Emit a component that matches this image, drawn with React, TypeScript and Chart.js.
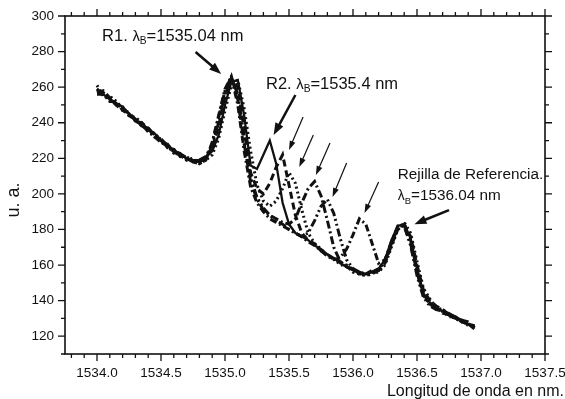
import React, { useEffect, useRef } from 'react';
import { Chart, registerables } from 'chart.js';

Chart.register(...registerables);

// ---------- data ----------
const wavelengths = [
  1534.0, 1534.05, 1534.1, 1534.15, 1534.2, 1534.25, 1534.3, 1534.35, 1534.4, 1534.45,
  1534.5, 1534.55, 1534.6, 1534.65, 1534.7, 1534.75, 1534.8, 1534.85, 1534.9, 1534.95,
  1535.0, 1535.05, 1535.1, 1535.15, 1535.2, 1535.25, 1535.3, 1535.35, 1535.4, 1535.45,
  1535.5, 1535.55, 1535.6, 1535.65, 1535.7, 1535.75, 1535.8, 1535.85, 1535.9, 1535.95,
  1536.0, 1536.05, 1536.1, 1536.15, 1536.2, 1536.25, 1536.3, 1536.35, 1536.4, 1536.45,
  1536.5, 1536.55, 1536.6, 1536.65, 1536.7, 1536.75, 1536.8, 1536.85, 1536.9, 1536.95,
];

const seriesA = [
  259, 256, 253, 251, 249, 245, 242, 238, 236, 234, 230, 228, 224, 223, 220, 219, 219, 221,
  224, 233, 250, 263, 264, 244, 216, 214, 222, 230, 217, 195,
  183, 178, 176, 174, 171, 169, 166, 164, 161, 159, 157, 156,
  155, 156, 158, 163, 174, 182, 183, 175, 158, 144, 139, 136,
  134, 133, 131, 129, 127, 126,
];
const seriesB = [
  257, 258, 254, 250, 247, 246, 241, 240, 237, 232, 231, 226, 225, 221, 221, 218, 218, 220,
  226, 238, 255, 265, 260, 236, 212, 203, 200, 206, 215, 222,
  205, 188, 178, 174, 172, 168, 166, 163, 162, 159, 158, 155,
  155, 157, 157, 161, 171, 180, 183, 176, 160, 146, 140, 137,
  135, 132, 130, 129, 128, 125,
];
const seriesC = [
  261, 255, 255, 252, 248, 244, 243, 240, 235, 233, 229, 227, 223, 222, 219, 220, 217, 219,
  222, 231, 247, 261, 264, 248, 224, 205, 196, 193, 196, 203,
  212, 206, 191, 178, 172, 169, 165, 164, 160, 160, 156, 155,
  154, 156, 156, 160, 170, 180, 184, 178, 162, 147, 141, 136,
  135, 132, 131, 128, 127, 125,
];
const seriesD = [
  258, 257, 253, 251, 248, 245, 241, 239, 236, 234, 230, 226, 224, 221, 220, 218, 219, 221,
  228, 243, 258, 266, 253, 228, 207, 197, 191, 188, 186, 184,
  183, 186, 195, 203, 207, 199, 185, 170, 162, 159, 157, 156,
  154, 155, 157, 163, 173, 182, 182, 172, 156, 143, 138, 136,
  133, 132, 130, 129, 126, 126,
];
const seriesE = [
  259, 255, 254, 250, 249, 244, 242, 238, 237, 233, 231, 227, 225, 222, 219, 219, 218, 220,
  227, 240, 256, 265, 256, 232, 209, 198, 192, 188, 185, 183,
  180, 178, 176, 178, 185, 193, 197, 189, 175, 163, 158, 156,
  155, 156, 158, 162, 172, 181, 182, 171, 154, 142, 137, 135,
  134, 131, 131, 128, 127, 124,
];
const seriesF = [
  256, 256, 252, 252, 247, 245, 242, 239, 235, 232, 229, 228, 223, 222, 221, 218, 217, 219,
  229, 244, 259, 266, 250, 224, 204, 195, 190, 186, 184, 182,
  180, 178, 176, 173, 171, 168, 165, 163, 164, 169, 177, 186,
  183, 172, 161, 163, 172, 181, 183, 174, 157, 144, 138, 136,
  134, 132, 130, 128, 127, 125,
];

const xMajorTicks = [1534.0, 1534.5, 1535.0, 1535.5, 1536.0, 1536.5, 1537.0, 1537.5];
const xTickLabels = ['1534.0', '1534.5', '1535.0', '1535.5', '1536.0', '1536.5', '1537.0', '1537.5'];
const yMajorTicks = [120, 140, 160, 180, 200, 220, 240, 260, 280, 300];
const yTickLabels = ['120', '140', '160', '180', '200', '220', '240', '260', '280', '300'];
const X_MIN = 1533.75;
const X_MAX = 1537.5;
const Y_MIN = 110;
const Y_MAX = 300;
const xTitle = 'Longitud de onda en nm.';
const yTitle = 'u. a.';

// annotations (data coordinates)
const thickArrows = [
  { x1: 1534.77, y1: 279.8, x2: 1534.97, y2: 267.4 },
  { x1: 1535.55, y1: 255.6, x2: 1535.38, y2: 233.1 },
  { x1: 1536.75, y1: 190.9, x2: 1536.48, y2: 183.0 },
];
const thinArrows = [
  { x1: 1535.61, y1: 243.2, x2: 1535.5, y2: 224.7 },
  { x1: 1535.69, y1: 233.1, x2: 1535.58, y2: 215.1 },
  { x1: 1535.82, y1: 228.6, x2: 1535.71, y2: 210.6 },
  { x1: 1535.95, y1: 217.4, x2: 1535.84, y2: 198.3 },
  { x1: 1536.2, y1: 206.7, x2: 1536.09, y2: 189.3 },
];
const annotationTexts = [
  { x: 1534.04, y: 289.3, size: 16.5, parts: [['R1. ', 'n'], ['λ', 'l'], ['B', 's'], ['=1535.04 nm', 'n']] },
  { x: 1535.32, y: 262.3, size: 16.5, parts: [['R2. ', 'n'], ['λ', 'l'], ['B', 's'], ['=1535.4 nm', 'n']] },
  { x: 1536.35, y: 211.7, size: 15.3, parts: [['Rejilla de Referencia.', 'n']] },
  { x: 1536.35, y: 199.4, size: 15.3, parts: [['λ', 'l'], ['B', 's'], ['=1536.04 nm', 'n']] },
];

const FONT = '"Liberation Sans", Arial, Helvetica, sans-serif';
const INK = '#111';

function drawArrow(ctx: CanvasRenderingContext2D, x1: number, y1: number, x2: number, y2: number, lw: number, hl: number, hw: number) {
  const dx = x2 - x1;
  const dy = y2 - y1;
  const len = Math.hypot(dx, dy);
  const ux = dx / len;
  const uy = dy / len;
  const bx = x2 - ux * hl;
  const by = y2 - uy * hl;
  ctx.lineWidth = lw;
  ctx.beginPath();
  ctx.moveTo(x1, y1);
  ctx.lineTo(bx + ux * 1, by + uy * 1);
  ctx.stroke();
  ctx.beginPath();
  ctx.moveTo(x2, y2);
  ctx.lineTo(bx - uy * hw, by + ux * hw);
  ctx.lineTo(bx + uy * hw, by - ux * hw);
  ctx.closePath();
  ctx.fill();
}

const decorPlugin = {
  id: 'decor',
  afterDraw(chart: any) {
    const { ctx, chartArea: a } = chart;
    const xs = chart.scales.x;
    const ys = chart.scales.y;
    ctx.save();
    ctx.strokeStyle = INK;
    ctx.fillStyle = INK;
    // frame
    ctx.lineWidth = 1.6;
    ctx.strokeRect(a.left, a.top, a.right - a.left, a.bottom - a.top);
    // tick marks (outward, all four sides)
    ctx.lineWidth = 1.3;
    ctx.beginPath();
    for (let i = Math.ceil(X_MIN * 10 - 1e-6); i <= Math.floor(X_MAX * 10 + 1e-6); i++) {
      const px = xs.getPixelForValue(i / 10);
      const L = i % 5 === 0 ? 7 : 4;
      ctx.moveTo(px, a.bottom);
      ctx.lineTo(px, a.bottom + L);
      ctx.moveTo(px, a.top);
      ctx.lineTo(px, a.top - L);
    }
    for (let v = Y_MIN; v <= Y_MAX; v += 10) {
      const py = ys.getPixelForValue(v);
      const L = v % 20 === 0 ? 7 : 4;
      ctx.moveTo(a.left, py);
      ctx.lineTo(a.left - L, py);
      ctx.moveTo(a.right, py);
      ctx.lineTo(a.right + L, py);
    }
    ctx.stroke();

    // arrows
    for (const ar of thickArrows) {
      drawArrow(ctx, xs.getPixelForValue(ar.x1), ys.getPixelForValue(ar.y1), xs.getPixelForValue(ar.x2), ys.getPixelForValue(ar.y2), 2.5, 12, 4.5);
    }
    for (const ar of thinArrows) {
      drawArrow(ctx, xs.getPixelForValue(ar.x1), ys.getPixelForValue(ar.y1), xs.getPixelForValue(ar.x2), ys.getPixelForValue(ar.y2), 1.2, 9, 3);
    }

    // annotation texts
    for (const t of annotationTexts) {
      const size = t.size;
      let cx = xs.getPixelForValue(t.x);
      const base = ys.getPixelForValue(t.y) + size * 0.36;
      ctx.textAlign = 'left';
      ctx.textBaseline = 'alphabetic';
      for (const [txt, kind] of t.parts) {
        const s = kind === 's' ? size * 0.62 : kind === 'l' ? size * 0.9 : size;
        ctx.font = `${s}px ${FONT}`;
        ctx.fillText(txt, cx, kind === 's' ? base + size * 0.2 : base);
        cx += ctx.measureText(txt).width;
      }
    }

    // axis titles
    ctx.font = `16px ${FONT}`;
    ctx.textAlign = 'right';
    ctx.textBaseline = 'middle';
    ctx.fillText(xTitle, 564, 392);
    ctx.save();
    ctx.translate(14, 200);
    ctx.rotate(-Math.PI / 2);
    ctx.textAlign = 'center';
    ctx.font = `18px ${FONT}`;
    ctx.fillText(yTitle, 0, 0);
    ctx.restore();
    ctx.restore();
  },
};

const styles = [
  { data: seriesA, dash: [] as number[], width: 2.3 },
  { data: seriesB, dash: [7, 4], width: 3 },
  { data: seriesC, dash: [2, 3], width: 3 },
  { data: seriesD, dash: [8, 3, 2, 3], width: 3 },
  { data: seriesE, dash: [8, 3, 2, 3, 2, 3], width: 3 },
  { data: seriesF, dash: [7, 3, 2, 3], width: 3 },
];

export default function App() {
  const ref = useRef<HTMLCanvasElement | null>(null);
  useEffect(() => {
    if (!ref.current) return;
    const chart = new Chart(ref.current, {
      type: 'line',
      data: {
        datasets: styles.map((s, k) => ({
          label: 'S' + k,
          data: wavelengths.map((w, i) => ({ x: w, y: s.data[i] })),
          borderColor: INK,
          borderWidth: s.width,
          borderDash: s.dash,
          pointRadius: 0,
          fill: false,
          tension: 0,
        })),
      },
      options: {
        animation: false,
        responsive: false,
        devicePixelRatio: 1,
        layout: { padding: { top: 16, right: 20, left: 0, bottom: 0 } },
        plugins: { legend: { display: false }, tooltip: { enabled: false } },
        scales: {
          x: {
            type: 'linear',
            min: X_MIN,
            max: X_MAX,
            afterBuildTicks: (s: any) => {
              s.ticks = xMajorTicks.map((v) => ({ value: v }));
            },
            afterFit: (s: any) => {
              s.height = 45;
              s.paddingLeft = 0;
              s.paddingRight = 0;
            },
            ticks: {
              callback: (_v: any, i: number) => xTickLabels[i],
              autoSkip: false,
              maxRotation: 0,
              padding: 11,
              color: INK,
              font: { family: FONT, size: 13.5 },
            },
            grid: { display: false, drawTicks: false },
            border: { display: false },
          },
          y: {
            type: 'linear',
            min: Y_MIN,
            max: Y_MAX,
            afterBuildTicks: (s: any) => {
              s.ticks = yMajorTicks.map((v) => ({ value: v }));
            },
            afterFit: (s: any) => {
              s.width = 65;
              s.paddingTop = 0;
              s.paddingBottom = 0;
            },
            ticks: {
              callback: (_v: any, i: number) => yTickLabels[i],
              autoSkip: false,
              padding: 11,
              color: INK,
              font: { family: FONT, size: 13.5 },
            },
            grid: { display: false, drawTicks: false },
            border: { display: false },
          },
        },
      },
      plugins: [decorPlugin],
    } as any);
    return () => chart.destroy();
  }, []);
  return (
    <div style={{ position: 'absolute', left: 0, top: 0, width: 565, height: 399, background: '#fff' }}>
      <canvas ref={ref} width={565} height={399} />
    </div>
  );
}
